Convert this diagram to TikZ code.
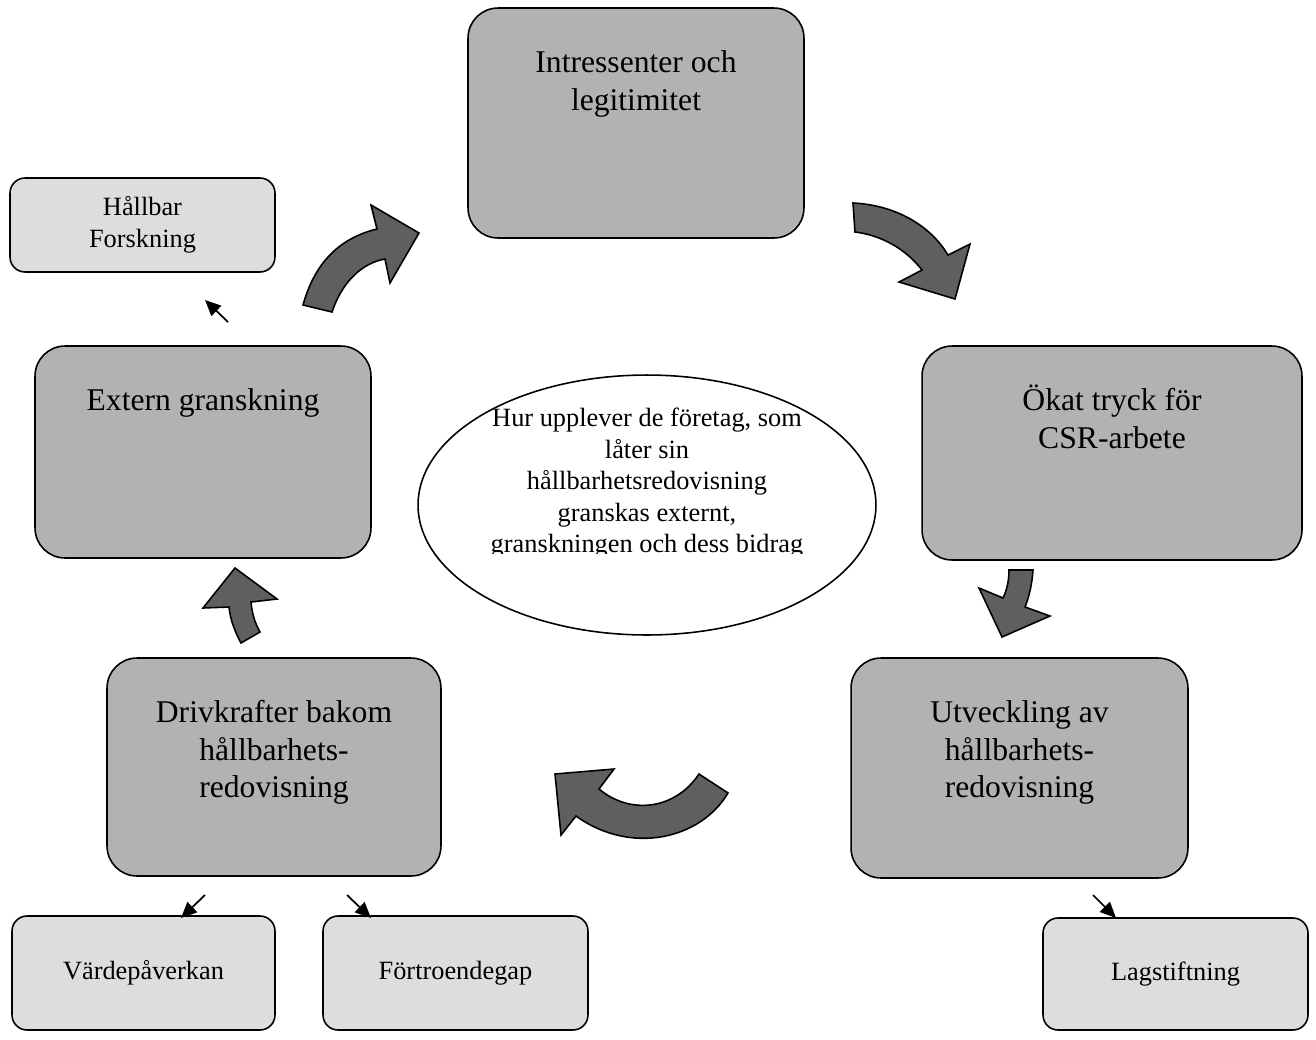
\documentclass[tikz,border=0pt]{standalone}
\usepackage{fontspec}
\setmainfont{Liberation Serif}
\usepackage{tikz}
\usetikzlibrary{arrows.meta,shapes.geometric}
\definecolor{boxgray}{RGB}{178,178,178}
\definecolor{lightbox}{RGB}{221,221,221}
\definecolor{arrowgray}{RGB}{95,95,95}
% text block hanging from the top of a main box
\newcommand{\toptext}[3]{\parbox[c][#1][t]{#2}{\centering\vspace*{22pt}\strut #3}}
\tikzset{
  % main process box
  mainbox/.style={rectangle, rounded corners=6mm, draw, line width=0.9pt, fill=boxgray,
                  inner sep=0pt, font=\fontsize{18}{21.3}\selectfont},
  % small side box
  sidebox/.style={rectangle, rounded corners=3mm, draw, line width=0.9pt, fill=lightbox,
                  inner sep=0pt, align=center, font=\fontsize{15}{18}\selectfont},
  % central question
  qellipse/.style={ellipse, draw, line width=0.9pt, fill=white, minimum width=9.16cm, minimum height=5.2cm},
  qtext/.style={align=center, inner sep=0pt, font=\fontsize{15}{17.9}\selectfont},
  % block arrow of the cycle
  bigarrow/.style={draw, line width=0.9pt, fill=arrowgray},
  % thin pointer
  pointer/.style={-{Triangle[length=9pt,width=8pt]}, line width=1pt},
}
\begin{document}
\begin{tikzpicture}[x=0.02cm, y=-0.02cm]
  \useasboundingbox (0,0) rectangle (1316,1039);
  % cycle boxes
  \node[mainbox] (intr) at (636,123) {\toptext{4.6cm}{6.72cm}{Intressenter och\\legitimitet}};
  \node[mainbox] (okat) at (1112,453) {\toptext{4.28cm}{7.6cm}{Ökat tryck för\\CSR-arbete}};
  \node[mainbox] (utv) at (1019.5,768) {\toptext{4.4cm}{6.74cm}{Utveckling av\\hållbarhets-\\redovisning}};
  \node[mainbox] (driv) at (274,767) {\toptext{4.36cm}{6.68cm}{Drivkrafter bakom\\hållbarhets-\\redovisning}};
  \node[mainbox] (ext) at (203,452) {\toptext{4.24cm}{6.72cm}{Extern granskning}};
  % side boxes
  \node[sidebox, minimum width=5.3cm, minimum height=1.88cm] (forsk) at (142.5,225) {Hållbar\\Forskning};
  \node[sidebox, minimum width=5.26cm, minimum height=2.28cm] (varde) at (143.5,973) {Värdepåverkan};
  \node[sidebox, minimum width=5.3cm, minimum height=2.28cm] (fort) at (455.5,973) {Förtroendegap};
  \node[sidebox, minimum width=5.3cm, minimum height=2.24cm] (lag) at (1175.5,974) {Lagstiftning};
  % question in the middle
  \node[qellipse] (quest) at (647,505) {};
  \begin{scope}
    \clip (418,375) rectangle (876,553);
    \node[qtext, anchor=north] (qt) at (647,408)
      {Hur upplever de företag, som\\låter sin\\hållbarhetsredovisning\\granskas externt,\\granskningen och dess bidrag};
  \end{scope}
  % cycle arrows
  \draw[bigarrow] (303,305) .. controls (315,262) and (340,238) .. (377,229) -- (371,205) -- (419,233)
    -- (390,283) -- (385,259) .. controls (362,263) and (342,282) .. (332,312) -- cycle;
  \draw[bigarrow] (853,203) .. controls (895,205) and (930,225) .. (948,255) -- (970,244) -- (955,299)
    -- (899,282) -- (922,270) .. controls (905,248) and (880,235) .. (855,232) -- cycle;
  \draw[bigarrow] (1009,570) -- (1033,570) .. controls (1032,585) and (1029,597) .. (1025,607) -- (1050,616)
    -- (1002,637) -- (979,588) -- (1003,598) .. controls (1007,590) and (1009,580) .. cycle;
  \draw[bigarrow] (555,774) -- (614,769) -- (599,789) .. controls (630,815) and (675,810) .. (699,774)
    -- (728,793) .. controls (700,840) and (630,855) .. (576,816) -- (561,835) -- cycle;
  \draw[bigarrow] (235,568) -- (277,599) -- (251,602) .. controls (252,615) and (256,625) .. (260,632)
    -- (241,643) .. controls (234,630) and (230,618) .. (229,607) -- (203,608) -- cycle;
  % pointers to side boxes
  \coordinate (p1) at (228,322);
  \coordinate (p1e) at (205,300);
  \coordinate (p2) at (205,895);
  \coordinate (p2e) at (181,918);
  \coordinate (p3) at (347,895);
  \coordinate (p3e) at (371,918);
  \coordinate (p4) at (1093,895);
  \coordinate (p4e) at (1116,918);
  \draw[pointer] (p1) -- (p1e);
  \draw[pointer] (p2) -- (p2e);
  \draw[pointer] (p3) -- (p3e);
  \draw[pointer] (p4) -- (p4e);
\end{tikzpicture}
\end{document}
